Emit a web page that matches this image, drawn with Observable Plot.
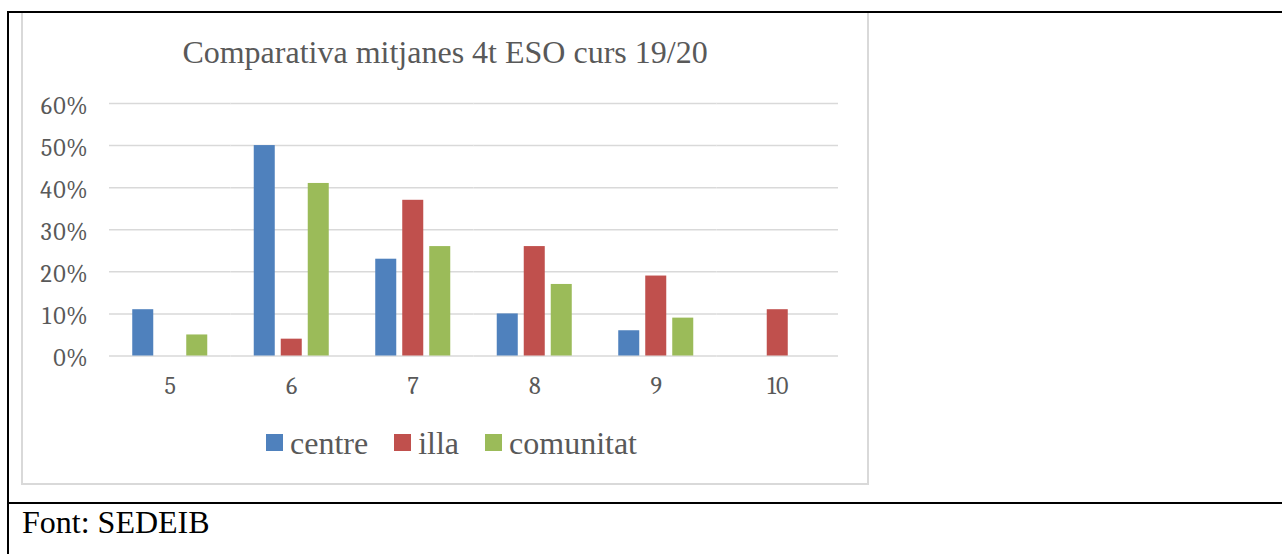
<!DOCTYPE html>
<html>
<head>
<meta charset="utf-8">
<script src="https://cdn.jsdelivr.net/npm/d3@7"></script>
<script src="https://cdn.jsdelivr.net/npm/@observablehq/plot@0.6"></script>
<style>
  html, body { margin: 0; padding: 0; background: #fff; }
  body { width: 1282px; height: 554px; position: relative; overflow: hidden; }
  .abs { position: absolute; }
  #frameTop { left: 7px; top: 11px; width: 1290px; height: 2px; background: #000; }
  #frameLeft { left: 7px; top: 11px; width: 2px; height: 560px; background: #000; }
  #frameMid { left: 7px; top: 502px; width: 1290px; height: 2px; background: #000; }
  #chartBox { left: 21px; top: 13px; width: 848px; height: 472px; box-sizing: border-box; border: 2px solid #d9d9d9; border-top: none; }
  #title { left: 21px; top: 36px; width: 848px; text-align: center; font-family: "Liberation Serif", serif; font-size: 32px; line-height: 32px; color: #595959; white-space: nowrap; }
  #chart { left: 0px; top: 80px; }
  #legend { left: 266px; top: 427px; display: flex; align-items: flex-start; font-family: "Liberation Serif", serif; font-size: 32px; line-height: 32px; color: #595959; white-space: nowrap; }
  .item { display: flex; align-items: flex-start; margin-right: 26px; }
  .sw { width: 17px; height: 17px; margin-top: 7px; margin-right: 7px; }
  #source { left: 22px; top: 506px; font-family: "Liberation Serif", serif; font-size: 32px; line-height: 32px; color: #000; white-space: nowrap; }
</style>
</head>
<body>
<div id="chartBox" class="abs"></div>
<div id="frameTop" class="abs"></div>
<div id="frameLeft" class="abs"></div>
<div id="frameMid" class="abs"></div>
<div id="title" class="abs">Comparativa mitjanes 4t ESO curs 19/20</div>
<div id="chart" class="abs"></div>
<div id="legend" class="abs"></div>
<div id="source" class="abs">Font: SEDEIB</div>
<script>
const categories = ["5", "6", "7", "8", "9", "10"];
const series = ["centre", "illa", "comunitat"];
const centre = [0.11, 0.50, 0.23, 0.10, 0.06, 0];
const illa = [0, 0.04, 0.37, 0.26, 0.19, 0.11];
const comunitat = [0.05, 0.41, 0.26, 0.17, 0.09, 0];
const colors = ["#4F81BD", "#C0504D", "#9BBB59"];
const yTicks = [0, 0.1, 0.2, 0.3, 0.4, 0.5, 0.6];

const seriesValues = [centre, illa, comunitat];
const data = categories.flatMap((c, i) =>
  series.map((s, j) => ({cat: c, series: s, value: seriesValues[j][i]}))
);

const chart = Plot.plot({
  width: 870,
  height: 330,
  marginLeft: 109,
  marginRight: 32,
  marginTop: 23,
  marginBottom: 54.5,
  style: {fontFamily: "Caladea, Cambria, 'DejaVu Serif', serif", fontSize: "24px", color: "#595959", background: "transparent", overflow: "visible"},
  fx: {domain: categories, padding: 0, round: false, axis: "bottom", tickSize: 0, tickPadding: 21, label: null},
  x: {domain: series, paddingInner: 0.222, paddingOuter: 0.861, round: false, axis: null},
  y: {domain: [0, 0.6], ticks: yTicks, tickFormat: d3.format(".0%"), tickSize: 0, tickPadding: 22, label: null},
  color: {domain: series, range: colors},
  marks: [
    Plot.ruleY(yTicks, {stroke: "#d9d9d9", strokeWidth: 1.5}),
    Plot.barY(data, {fx: "cat", x: "series", y: "value", fill: "series"})
  ]
});
d3.select(chart).selectAll('g[aria-label^="y-axis"] text').attr("dy", "0.1em");
document.getElementById("chart").appendChild(chart);

const legend = document.getElementById("legend");
series.forEach((s, i) => {
  const item = document.createElement("div");
  item.className = "item";
  const sw = document.createElement("div");
  sw.className = "sw";
  sw.style.background = colors[i];
  const label = document.createElement("span");
  label.textContent = s;
  item.appendChild(sw);
  item.appendChild(label);
  legend.appendChild(item);
});
</script>
</body>
</html>
